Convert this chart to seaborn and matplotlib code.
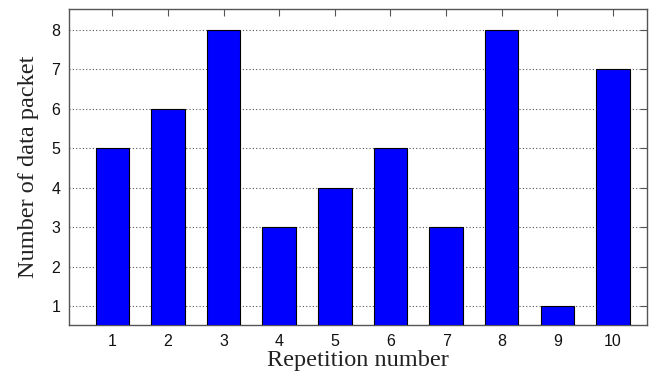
import matplotlib
matplotlib.use("Agg")
import matplotlib.pyplot as plt
import seaborn as sns
import pandas as pd

repetitions = [1, 2, 3, 4, 5, 6, 7, 8, 9, 10]
packets = [5, 6, 8, 3, 4, 5, 3, 8, 1, 7]
y_ticks = [1, 2, 3, 4, 5, 6, 7, 8]

df = pd.DataFrame({"rep": repetitions, "packets": packets})

sns.set_style("white")
fig = plt.figure(figsize=(6.49, 3.79), dpi=100)
ax = fig.add_axes([0.106, 0.142, 0.891, 0.834])

sns.barplot(data=df, x="rep", y="packets", native_scale=True, width=0.6,
            color="#0000FF", saturation=1, edgecolor="black", linewidth=0.8,
            ax=ax, zorder=3)

ax.set_xlim(0.22, 10.61)
ax.set_ylim(0.52, 8.53)
ax.set_xticks(repetitions)
ax.set_xticklabels([str(r) for r in repetitions])
ax.set_yticks(y_ticks)
ax.yaxis.grid(True, linestyle=(0, (1, 2)), color="#555555", linewidth=0.8, zorder=0)
ax.xaxis.grid(False)
ax.set_axisbelow(True)

for s in ax.spines.values():
    s.set_color("#555555")
    s.set_linewidth(1.0)

ax.tick_params(axis="both", direction="in", length=5, color="#555555",
               top=True, right=True, labelsize=11.5, pad=6, labelcolor="#111111")
for lab in ax.get_xticklabels() + ax.get_yticklabels():
    lab.set_fontfamily("Liberation Sans")

ax.set_xlabel("Repetition number", fontfamily="Liberation Serif", fontsize=17.5,
              labelpad=1, color="#222222")
ax.set_ylabel("Number of data packet", fontfamily="Liberation Serif", fontsize=17.5,
              labelpad=9, color="#222222")

fig.savefig("out.png", dpi=100)
